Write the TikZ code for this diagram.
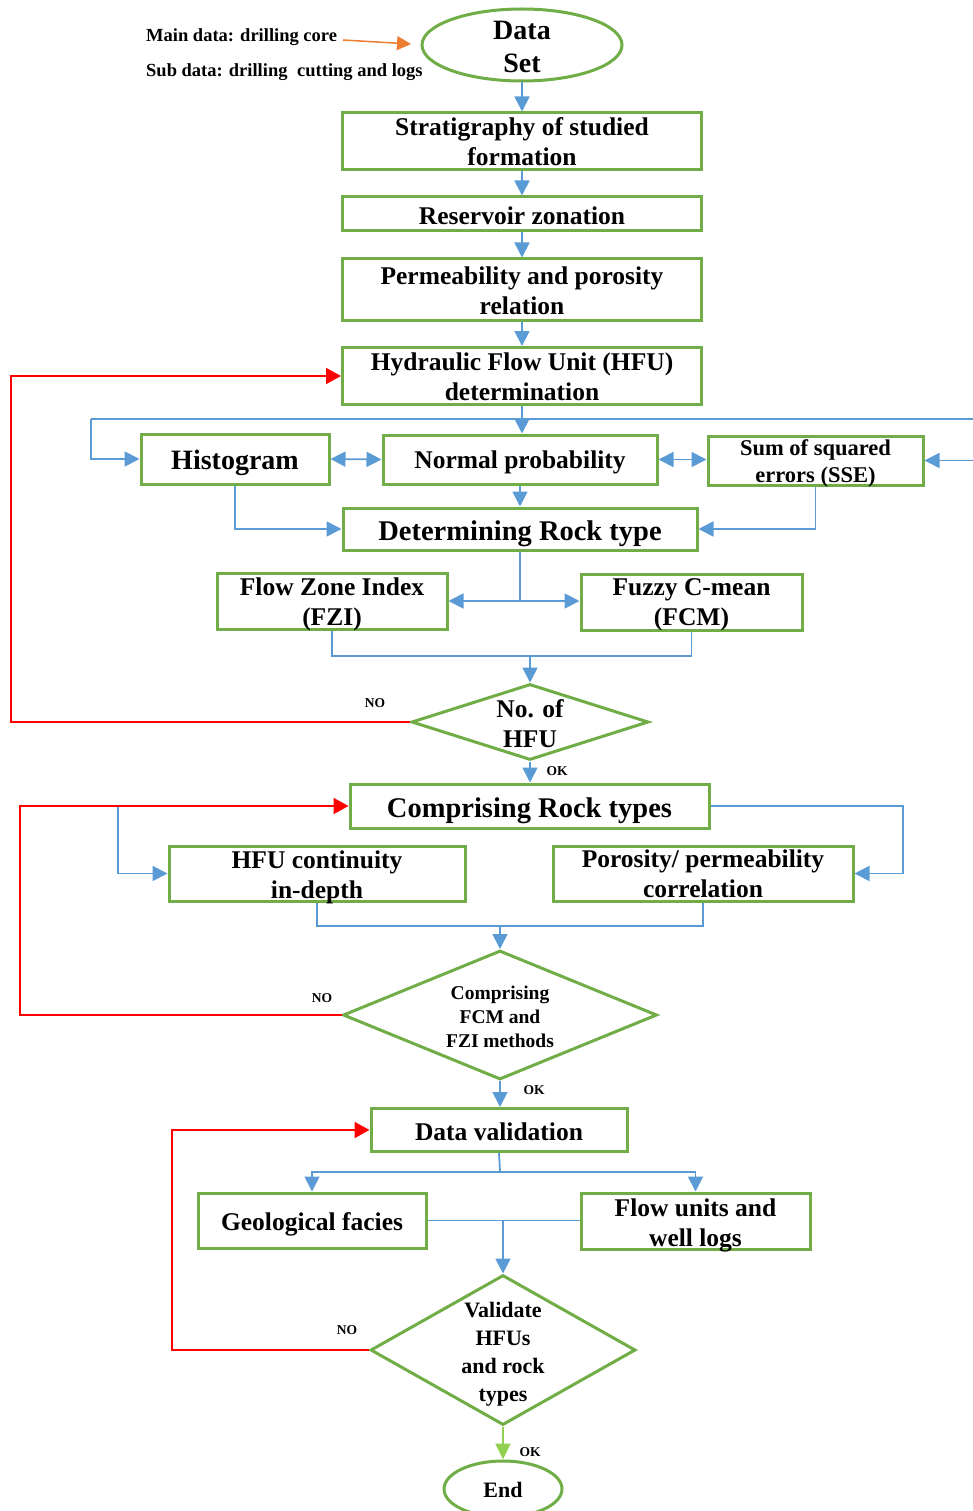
\documentclass[tikz,border=0pt]{standalone}
\usepackage{fontspec}
\setmainfont{Liberation Serif}
\usetikzlibrary{arrows.meta,shapes.geometric}
\definecolor{gbox}{RGB}{112,173,71}
\definecolor{bline}{RGB}{91,155,213}
\definecolor{rline}{RGB}{255,0,0}
\definecolor{oline}{RGB}{237,125,49}
\definecolor{lgreen}{RGB}{146,208,80}
\newcommand\myfs[2]{\fontsize{#1}{#2}\selectfont\bfseries}
\tikzset{
  box/.style={draw=gbox, line width=3pt, rectangle, inner sep=0pt},
  bt/.style={align=center, font=\myfs{25.5}{30}, inner sep=0pt},
  ell/.style={draw=gbox, line width=3pt, ellipse, inner sep=0pt},
  dia/.style={draw=gbox, line width=3pt, diamond, inner sep=0pt},
  tip/.style={-{Triangle[length=15pt,width=15pt]}},
  bl/.style={draw=bline, line width=1.8pt, tip},
  bln/.style={draw=bline, line width=1.8pt},
  rd/.style={draw=rline, line width=2pt, -{Triangle[length=15pt,width=16pt]}},
  gr/.style={draw=lgreen, line width=1.8pt, -{Triangle[length=16pt,width=15pt]}},
  lbl/.style={font=\myfs{13.5}{16}},
  side/.style={font=\myfs{18.5}{22}, anchor=west, inner sep=0pt},
}
\begin{document}
\begin{tikzpicture}[x=1pt,y=-1pt]
\useasboundingbox (0,0) rectangle (973,1511);
% nodes
\node[ell, minimum width=200, minimum height=72,
  label={[bt,font=\myfs{28}{33},yshift=-2pt]center:Data\\Set}] (ds) at (522,45) {};
\node[side] (main) at (146,37) {Main data: drilling core};
\node[side] (sub) at (146,72) {Sub data: drilling\hspace{5pt} cutting and logs};
\node[box, minimum width=359, minimum height=57,
  label={[bt]center:Stratigraphy of studied\\formation}] (strat) at (522,141.5) {};
\node[box, minimum width=359, minimum height=34,
  label={[bt,yshift=-2pt]center:Reservoir zonation}] (resz) at (522,214) {};
\node[box, minimum width=359, minimum height=61,
  label={[bt,yshift=-1pt]center:Permeability and porosity\\relation}] (perm) at (522,289.5) {};
\node[box, minimum width=359, minimum height=57,
  label={[bt,yshift=-1pt]center:Hydraulic Flow Unit (HFU)\\determination}] (hfu) at (522,376) {};
\node[box, minimum width=188, minimum height=50,
  label={[bt,font=\myfs{28}{32},yshift=-4pt]center:Histogram}] (hist) at (235,459) {};
\node[box, minimum width=274, minimum height=49,
  label={[bt,yshift=-3pt]center:Normal probability}] (norm) at (520,459.5) {};
\node[box, minimum width=215, minimum height=49,
  label={[bt,font=\myfs{22.5}{27},yshift=-3pt]center:Sum of squared\\errors (SSE)}] (sse) at (815.5,460.5) {};
\node[box, minimum width=354, minimum height=42,
  label={[bt,font=\myfs{28.5}{32},yshift=-5pt]center:Determining Rock type}] (det) at (520,529) {};
\node[box, minimum width=230, minimum height=56,
  label={[bt,yshift=-3pt]center:Flow Zone Index\\(FZI)}] (fzi) at (332,601) {};
\node[box, minimum width=221, minimum height=56,
  label={[bt,yshift=-3pt]center:Fuzzy C-mean\\(FCM)}] (fcm) at (691.5,602) {};
\node[dia, minimum width=237, minimum height=76,
  label={[bt,yshift=-2pt]center:No. of\\HFU}] (d1) at (530,722) {};
\node[box, minimum width=359, minimum height=44,
  label={[bt,font=\myfs{28.5}{32},yshift=-5pt]center:Comprising Rock types}] (crt) at (529.5,806) {};
\node[box, minimum width=296, minimum height=55,
  label={[bt,yshift=-3.5pt]center:HFU continuity\\in-depth}] (hfc) at (317,873.5) {};
\node[box, minimum width=300, minimum height=55,
  label={[bt,yshift=-0.5pt]center:Porosity/ permeability\\correlation}] (por) at (703,873.5) {};
\node[dia, minimum width=314, minimum height=129,
  label={[bt,font=\myfs{19.5}{24},yshift=-2pt]center:Comprising\\FCM and\\FZI methods}] (d2) at (500,1015) {};
\node[box, minimum width=256, minimum height=43,
  label={[bt,yshift=-2pt]center:Data validation}] (dv) at (499,1130) {};
\node[box, minimum width=228, minimum height=55,
  label={[bt,yshift=-4pt]center:Geological facies}] (geo) at (312,1220.5) {};
\node[box, minimum width=229, minimum height=56,
  label={[bt,yshift=-4pt]center:Flow units and\\well logs}] (flow) at (695.5,1221) {};
\node[dia, minimum width=265, minimum height=150,
  label={[bt,font=\myfs{22}{28},yshift=-4pt]center:Validate\\HFUs\\and rock\\types}] (d3) at (503,1350) {};
\node[ell, minimum width=118, minimum height=56,
  label={[bt,font=\myfs{22}{26},yshift=-1pt]center:End}] (end) at (503,1489) {};
% labels
\node[lbl] (no1) at (375,703) {NO};
\node[lbl] (ok1) at (557,771) {OK};
\node[lbl] (no2) at (322,998) {NO};
\node[lbl] (ok2) at (534,1090) {OK};
\node[lbl] (no3) at (347,1330) {NO};
\node[lbl] (ok3) at (530,1452) {OK};
% coordinates
\coordinate (jl) at (91,419);
\coordinate (jr) at (985,419);
\coordinate (j2) at (520,601);
\coordinate (j3) at (530,656);
\coordinate (r1) at (11,376);
\coordinate (b1) at (118,806);
\coordinate (b2) at (903,806);
\coordinate (r2) at (20,806);
\coordinate (j4) at (500,926);
\coordinate (j5) at (500,1172);
\coordinate (j6) at (503,1221);
\coordinate (r3) at (172,1130);
\coordinate (oa) at (343,40);
\coordinate (ob) at (411,44);
% connectors
\draw[draw=oline, line width=1.5pt, -{Triangle[length=14pt,width=14pt]}] (oa) -- (ob);
\draw[bl] (ds.south) -- (ds.south |- strat.north);
\draw[bl] (strat.south) -- (resz.north);
\draw[bl] (resz.south) -- (perm.north);
\draw[bl] (perm.south) -- (hfu.north);
\draw[bl] (hfu.south) -- (hfu.south |- norm.north);
\draw[bln] (jl) -- (jr);
\draw[bl] (jl) |- (hist.west);
\draw[bl] (jr) |- (sse.east);
\draw[bl, {Triangle[length=15pt,width=15pt]}-{Triangle[length=15pt,width=15pt]}] (hist.east) -- (norm.west);
\draw[bl, {Triangle[length=15pt,width=15pt]}-{Triangle[length=15pt,width=15pt]}] (norm.east) -- (norm.east -| sse.west);
\draw[bl] (norm.south) -- (det.north);
\draw[bl] (hist.south) |- (det.west);
\draw[bl] (sse.south) |- (det.east);
\draw[bln] (det.south) -- (j2);
\draw[bl] (j2) -- (fzi.east);
\draw[bl] (j2) -- (j2 -| fcm.west);
\draw[bln] (fzi.south) |- (j3) -| (fcm.south);
\draw[bl] (j3) -- (d1.north);
\draw[rd] (d1.west) -| (r1) -- (hfu.west);
\draw[bl] (d1.south) -- (d1.south |- crt.north);
\draw[bl] (b1) |- (hfc.west);
\draw[bl] (crt.east) -- (b2) |- (por.east);
\draw[rd] (d2.west) -| (r2) -- (crt.west);
\draw[bln] (hfc.south) |- (j4) -| (por.south);
\draw[bl] (j4) -- (d2.north);
\draw[bl] (d2.south) -- (d2.south |- dv.north);
\draw[bln] (dv.south) -- (j5);
\draw[bl] (j5) -| (geo.north);
\draw[bl] (j5) -| (flow.north);
\draw[bln] (geo.east) -- (geo.east -| flow.west);
\draw[bl] (j6) -- (d3.north);
\draw[rd] (d3.west) -| (r3) -- (dv.west);
\draw[gr] (d3.south) -- (end.north);
\end{tikzpicture}
\end{document}
